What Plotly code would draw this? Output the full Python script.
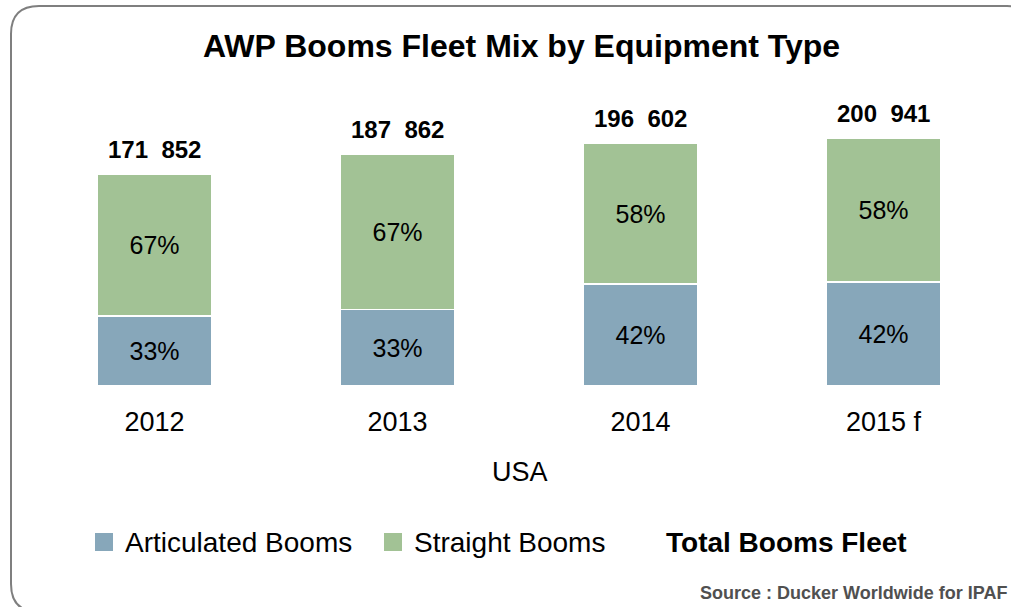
import plotly.graph_objects as go

# data
years = ["2012", "2013", "2014", "2015 f"]
total_fleet = [171852, 187862, 196602, 200941]
articulated_share = [33, 33, 42, 42]
straight_share = [67, 67, 58, 58]
series_names = ["Articulated Booms", "Straight Booms", "Total Booms Fleet"]
region = "USA"
source_note = "Source : Ducker Worldwide for IPAF"

blue = "#87a7ba"
green = "#a2c295"
font = "Liberation Sans, Arial, sans-serif"

W, H = 1011, 607
ML, MR, MT, MB = 33, 6, 100, 221
PW, PH = W - ML - MR, H - MT - MB


def px(x):
    return (x - ML) / PW


def py(y):
    return (H - MB - y) / PH


pos = list(range(len(years)))
articulated = [t * s / 100 for t, s in zip(total_fleet, articulated_share)]
straight = [t * s / 100 for t, s in zip(total_fleet, straight_share)]

fig = go.Figure()
fig.add_trace(go.Bar(
    x=pos, y=articulated, name=series_names[0],
    marker=dict(color=blue, line=dict(color="white", width=1.5)),
    text=[f"{s}%" for s in articulated_share],
    textposition="inside", insidetextanchor="middle",
    textfont=dict(size=25, color="black", family=font),
    showlegend=False,
))
fig.add_trace(go.Bar(
    x=pos, y=straight, name=series_names[1],
    marker=dict(color=green, line=dict(color="white", width=1.5)),
    text=[f"{s}%" for s in straight_share],
    textposition="inside", insidetextanchor="middle",
    textfont=dict(size=25, color="black", family=font),
    showlegend=False,
))

# totals above the bars
for i, tot in zip(pos, total_fleet):
    label = f"{tot:,}".replace(",", "\u00a0\u00a0")
    fig.add_annotation(x=i, y=tot, text=f"<b>{label}</b>", showarrow=False,
                       yanchor="bottom", yshift=9,
                       font=dict(size=24, color="black", family=font))

fig.add_annotation(xref="paper", yref="paper", x=px(521), y=py(46),
                   text="<b>AWP Booms Fleet Mix by Equipment Type</b>",
                   showarrow=False, yanchor="middle",
                   font=dict(size=32, color="black", family=font))

fig.add_annotation(xref="paper", yref="paper", x=px(520), y=py(472),
                   text=region, showarrow=False, yanchor="middle",
                   font=dict(size=27, color="black", family=font))

# legend, drawn by hand so the swatches match
legend_items = [(95, blue, series_names[0]), (384, green, series_names[1]), (None, None, series_names[2])]
for x0, col, name in legend_items:
    if col:
        fig.add_shape(type="rect", xref="paper", yref="paper",
                      x0=px(x0), x1=px(x0 + 18), y0=py(551), y1=py(533),
                      fillcolor=col, line=dict(width=0))
        fig.add_annotation(xref="paper", yref="paper", x=px(x0 + 28), y=py(542),
                           text=name, showarrow=False, xanchor="left", yanchor="middle",
                           font=dict(size=28, color="black", family=font))
    else:
        fig.add_annotation(xref="paper", yref="paper", x=px(664), y=py(542),
                           text=f"<b>{name}</b>", showarrow=False, xanchor="left", yanchor="middle",
                           font=dict(size=28, color="black", family=font))

fig.add_annotation(xref="paper", yref="paper", x=px(1009), y=py(593),
                   text=f"<b>{source_note}</b>", showarrow=False, xanchor="right", yanchor="middle",
                   font=dict(size=18, color="#505050", family=font))

# rounded frame running off the right and bottom edges
L, T, R, B, r = 11, 6, 1035, 612, 28
pts = (f"M {px(L)},{py(T + r)} Q {px(L)},{py(T)} {px(L + r)},{py(T)} "
       f"L {px(R - r)},{py(T)} Q {px(R)},{py(T)} {px(R)},{py(T + r)} "
       f"L {px(R)},{py(B - r)} Q {px(R)},{py(B)} {px(R - r)},{py(B)} "
       f"L {px(L + r)},{py(B)} Q {px(L)},{py(B)} {px(L)},{py(B - r)} Z")
fig.add_shape(type="path", xref="paper", yref="paper", path=pts,
              line=dict(color="#7f7f7f", width=2), layer="below")

fig.update_layout(
    width=W, height=H,
    margin=dict(l=ML, r=MR, t=MT, b=MB),
    barmode="stack", bargap=0.53,
    plot_bgcolor="white", paper_bgcolor="white",
    font=dict(family=font, color="black"),
    xaxis=dict(range=[-0.5, len(years) - 0.5], tickvals=pos, ticktext=years,
               automargin=False, showline=False, showgrid=False, zeroline=False,
               ticks="", ticklabelstandoff=17,
               tickfont=dict(size=27, color="black", family=font)),
    yaxis=dict(visible=False, automargin=False, range=[0, PH / 212 * total_fleet[0]]),
)

fig.write_html("out.html", config={"displayModeBar": False},
               post_script="document.body.style.margin='0';")
